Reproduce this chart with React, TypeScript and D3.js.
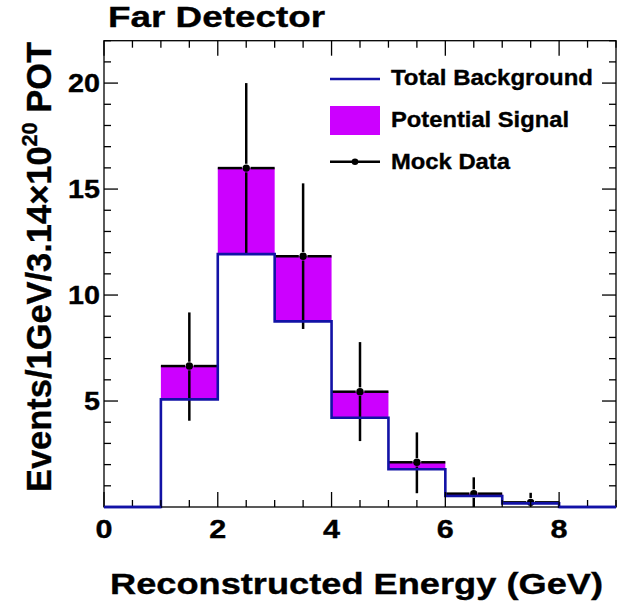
import React from "react";
import * as d3 from "d3";

// ---- data ----
const binEdges = [0, 1, 2, 3, 4, 5, 6, 7, 8, 9];
const background = [0, 5.08, 11.93, 8.76, 4.21, 1.78, 0.52, 0.17, 0];
const signal = [0, 1.57, 4.06, 3.07, 1.23, 0.33, 0.11, 0.05, 0];
const mockData = [null, 6.65, 15.99, 11.83, 5.44, 2.11, 0.63, 0.22, null];
const mockHigh = [null, 9.18, 20.0, 15.27, 7.78, 3.52, 1.4, 0.67, null];
const mockLow = [null, 4.07, 11.93, 8.4, 3.11, 0.65, 0, 0, null];
const xTickLabels = [0, 2, 4, 6, 8];
const yTickLabels = [5, 10, 15, 20];
const legendLabels = ["Total Background", "Potential Signal", "Mock Data"];

const W = 619;
const H = 607;
const BLUE = "#1212a6";
const MAGENTA = "#cc00ff";
const FONT = "'Liberation Sans', Arial, Helvetica, sans-serif";

export default function App() {
  const x = d3.scaleLinear().domain([0, 9]).range([104, 616]);
  const y = d3.scaleLinear().domain([0, 22]).range([507, 40.7]);
  const [x0, x1] = x.range();
  const [y0, y1] = y.range();

  const nb = binEdges.length - 1;
  const bins = d3.range(nb);

  const bgPts: [number, number][] = [];
  bins.forEach((i) => {
    bgPts.push([binEdges[i], background[i]]);
    bgPts.push([binEdges[i + 1], background[i]]);
  });
  const bgLine = d3
    .line<[number, number]>()
    .x((d) => x(d[0]))
    .y((d) => y(d[1]));

  const xMinor = d3.range(0, 9.001, 0.5);
  const yMinor = d3.range(0, 22.001, 1);
  const r = 3.7;

  return (
    <svg
      width={W}
      height={H}
      style={{ position: "absolute", left: 0, top: 0, background: "#fff" }}
      fontFamily={FONT}
      fontWeight="bold"
    >
      <rect x={0} y={0} width={W} height={H} fill="#fff" />
      {bins.map((i) =>
        signal[i] > 0 ? (
          <rect
            key={"s" + i}
            x={x(binEdges[i])}
            width={x(binEdges[i + 1]) - x(binEdges[i])}
            y={y(background[i] + signal[i])}
            height={y(background[i]) - y(background[i] + signal[i])}
            fill={MAGENTA}
          />
        ) : null
      )}
      {bins.map((i) => {
        const v = mockData[i];
        if (v == null) return null;
        const cx = x((binEdges[i] + binEdges[i + 1]) / 2);
        const cy = y(v);
        const gap = r + 0.6;
        return (
          <g key={"m" + i} stroke="#000" strokeWidth={2.5}>
            <line x1={x(binEdges[i])} x2={cx - gap} y1={cy} y2={cy} />
            <line x1={cx + gap} x2={x(binEdges[i + 1])} y1={cy} y2={cy} />
            {y(mockHigh[i] as number) < cy - gap && (
              <line x1={cx} x2={cx} y1={y(mockHigh[i] as number)} y2={cy - gap} />
            )}
            {y(mockLow[i] as number) > cy + gap && (
              <line x1={cx} x2={cx} y1={cy + gap} y2={y(mockLow[i] as number)} />
            )}
            <circle cx={cx} cy={cy} r={r} fill="#000" stroke="none" />
          </g>
        );
      })}
      <path d={bgLine(bgPts) || ""} fill="none" stroke={BLUE} strokeWidth={2.6} />

      <rect x={x0} y={y1} width={x1 - x0} height={y0 - y1} fill="none" stroke="#000" strokeWidth={1.3} />
      {xMinor.map((t) => {
        const major = Math.abs(t % 2) < 1e-6;
        const len = major ? 15 : 7;
        return (
          <g key={"xt" + t} stroke="#000" strokeWidth={1.3}>
            <line x1={x(t)} x2={x(t)} y1={y0} y2={y0 - len} />
            <line x1={x(t)} x2={x(t)} y1={y1} y2={y1 + len} />
          </g>
        );
      })}
      {yMinor.map((t) => {
        const major = t % 5 === 0;
        const len = major ? 14 : 7;
        return (
          <g key={"yt" + t} stroke="#000" strokeWidth={1.3}>
            <line x1={x0} x2={x0 + len} y1={y(t)} y2={y(t)} />
            <line x1={x1} x2={x1 - len} y1={y(t)} y2={y(t)} />
          </g>
        );
      })}
      {bins.map((i) =>
        background[i] === 0 ? (
          <line
            key={"z" + i}
            x1={x(binEdges[i])}
            x2={x(binEdges[i + 1])}
            y1={y(0)}
            y2={y(0)}
            stroke={BLUE}
            strokeWidth={2.6}
          />
        ) : null
      )}

      <g stroke="#000" strokeWidth={0.35}>
        {xTickLabels.map((t) => (
          <text
            key={"xl" + t}
            x={x(t) - 8.5}
            y={538}
            fontSize={25}
            textLength={17}
            lengthAdjust="spacingAndGlyphs"
          >
            {t}
          </text>
        ))}
        {yTickLabels.map((t) => {
          const w = String(t).length === 1 ? 16 : 32;
          return (
            <text
              key={"yl" + t}
              x={100 - w}
              y={y(t) + 9}
              fontSize={25}
              textLength={w}
              lengthAdjust="spacingAndGlyphs"
            >
              {t}
            </text>
          );
        })}

        <text x={108} y={27} fontSize={29} textLength={217} lengthAdjust="spacingAndGlyphs">
          Far Detector
        </text>
        <text x={110} y={594} fontSize={30} textLength={493} lengthAdjust="spacingAndGlyphs">
          Reconstructed Energy (GeV)
        </text>
        <text
          transform="translate(51,492) rotate(-90)"
          fontSize={35}
          textLength={450}
          lengthAdjust="spacingAndGlyphs"
        >
          Events/1GeV/3.14×10
          <tspan fontSize={22} dy={-14}>20</tspan>
          <tspan dy={14}> POT</tspan>
        </text>

        <text x={391} y={85} fontSize={21.5} textLength={202} lengthAdjust="spacingAndGlyphs">
          {legendLabels[0]}
        </text>
        <text x={391} y={127} fontSize={21.5} textLength={178} lengthAdjust="spacingAndGlyphs">
          {legendLabels[1]}
        </text>
        <text x={391} y={169} fontSize={21.5} textLength={119} lengthAdjust="spacingAndGlyphs">
          {legendLabels[2]}
        </text>
      </g>

      <line x1={330} x2={380} y1={79} y2={79} stroke={BLUE} strokeWidth={2.6} />
      <rect x={330} y={106} width={50} height={29} fill={MAGENTA} />
      <line x1={330} x2={380} y1={161.7} y2={161.7} stroke="#000" strokeWidth={2.5} />
      <circle cx={355} cy={161.7} r={3.3} fill="#000" />
    </svg>
  );
}
